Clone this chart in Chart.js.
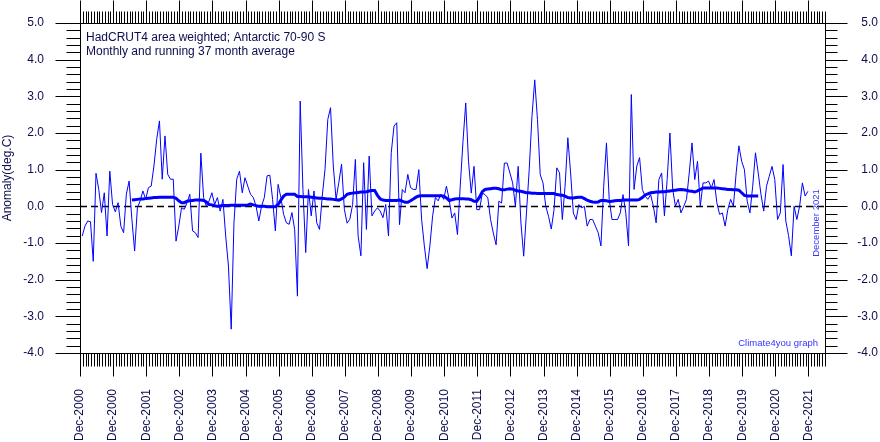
<!DOCTYPE html>
<html><head><meta charset="utf-8">
<script src="https://cdn.jsdelivr.net/npm/chart.js@4.4.1/dist/chart.umd.min.js"></script>
<style>html,body{margin:0;padding:0;background:#fff;overflow:hidden}canvas{display:block}</style>
</head><body>
<canvas id="c" width="880" height="442"></canvas>
<script>
// ---- data ----
const xTickLabels = ["Dec-2000","Dec-2000","Dec-2001","Dec-2002","Dec-2003","Dec-2004","Dec-2005","Dec-2006",
  "Dec-2007","Dec-2008","Dec-2009","Dec-2010","Dec-2011","Dec-2012","Dec-2013","Dec-2014","Dec-2015",
  "Dec-2016","Dec-2017","Dec-2018","Dec-2019","Dec-2020","Dec-2021"];

// monthly anomalies, Jan 2000 .. Dec 2021 (one row per year)
const monthlyAnomaly = [
  -0.81,-0.54,-0.40,-0.42,-1.50,0.90,0.46,-0.17,0.37,-0.81,0.96,0.05,
  -0.15,0.10,-0.54,-0.72,0.33,0.69,-0.35,-1.22,-0.04,0.15,0.42,0.19,
  0.51,0.55,1.10,1.83,2.33,0.74,1.92,0.87,0.74,0.74,-0.95,-0.54,
  -0.04,-0.08,0.10,0.33,-0.67,-0.72,-0.85,1.45,0.24,0.00,0.15,0.37,
  0.05,0.24,-0.13,0.19,-0.81,-1.63,-3.35,-0.45,0.74,0.96,0.37,0.78,
  0.55,0.33,0.24,0.01,-0.40,0.00,0.24,0.83,0.85,0.19,-0.67,0.60,
  0.24,-0.22,-0.45,-0.49,-0.17,-0.63,-2.45,2.87,0.46,-1.26,0.46,-0.26,
  0.42,-0.45,-0.63,0.28,1.01,2.37,2.69,1.10,0.19,0.65,1.15,-0.08,
  -0.46,-0.35,0.05,1.28,-0.81,-1.35,1.19,-0.63,1.37,-0.26,-0.13,-0.04,
  -0.13,-0.31,0.05,-0.81,1.46,2.19,2.28,-0.50,0.46,0.37,0.87,0.51,
  0.46,0.46,1.00,-0.35,-1.08,-1.70,-1.08,-0.26,0.24,0.15,0.33,0.19,
  0.55,0.18,-0.32,-0.18,-0.77,0.55,1.77,2.82,1.23,0.36,1.09,-0.09,
  -0.09,0.36,0.32,0.23,-0.36,-0.73,-1.05,0.14,0.09,1.18,1.18,0.91,
  0.64,0.00,1.09,-0.45,-1.36,-0.18,1.00,2.45,3.45,2.36,0.86,0.64,
  0.00,-0.27,-0.62,-0.09,1.05,0.91,-0.36,0.55,1.87,0.91,-0.18,-0.36,
  0.05,-0.04,0.00,-0.54,-0.36,-0.36,-0.54,-0.72,-1.08,0.55,1.73,0.19,
  -0.36,-0.36,-0.36,-0.18,0.32,-0.18,-1.08,3.05,0.46,1.10,1.33,0.46,
  0.28,0.19,0.32,0.00,-0.45,0.73,0.91,-0.26,0.73,2.00,0.46,0.00,
  0.19,-0.18,0.00,0.19,0.91,1.73,0.73,1.23,0.00,0.64,0.64,0.69,
  0.50,0.73,0.10,-0.22,-0.18,-0.54,-0.08,0.19,0.00,0.91,1.65,1.23,
  1.00,0.14,-0.18,0.55,1.46,0.91,0.32,-0.13,0.55,0.82,1.09,0.73,
  -0.36,-0.18,1.14,-0.40,-0.80,-1.35,0.00,-0.36,0.00,0.64,0.28,0.41
];

// running 37 month average (first value = month 19)
const runningMeanFirstMonth = 19;
const runningMean37 = [
  0.17,0.18,0.19,0.20,0.20,0.21,0.22,0.23,0.24,0.24,
  0.25,0.25,0.25,0.25,0.25,0.25,0.22,0.15,0.10,0.10,
  0.14,0.15,0.16,0.17,0.17,0.17,0.16,0.12,0.05,0.04,
  0.02,0.00,0.01,0.02,0.02,0.02,0.03,0.03,0.03,0.03,
  0.03,0.03,0.04,0.06,0.04,0.02,0.00,0.00,0.00,-0.01,
  -0.01,-0.01,-0.01,0.05,0.17,0.28,0.33,0.33,0.33,0.33,
  0.27,0.27,0.26,0.26,0.26,0.25,0.24,0.23,0.22,0.22,
  0.21,0.20,0.20,0.19,0.18,0.17,0.20,0.25,0.33,0.35,
  0.36,0.37,0.38,0.39,0.39,0.40,0.42,0.43,0.43,0.30,
  0.20,0.17,0.16,0.16,0.16,0.16,0.16,0.17,0.14,0.11,
  0.11,0.15,0.20,0.25,0.28,0.29,0.29,0.29,0.29,0.29,
  0.29,0.29,0.29,0.28,0.23,0.16,0.18,0.20,0.21,0.21,
  0.21,0.20,0.20,0.18,0.14,0.14,0.25,0.40,0.46,0.47,
  0.48,0.49,0.49,0.48,0.45,0.45,0.47,0.48,0.47,0.44,
  0.42,0.41,0.39,0.37,0.37,0.36,0.36,0.35,0.35,0.35,
  0.35,0.35,0.35,0.35,0.32,0.31,0.30,0.28,0.24,0.23,
  0.23,0.24,0.25,0.25,0.21,0.17,0.14,0.12,0.11,0.12,
  0.16,0.16,0.15,0.13,0.14,0.15,0.16,0.16,0.17,0.17,
  0.17,0.17,0.17,0.17,0.19,0.24,0.31,0.34,0.37,0.38,
  0.39,0.39,0.40,0.40,0.41,0.42,0.43,0.44,0.45,0.46,
  0.45,0.44,0.42,0.41,0.39,0.42,0.46,0.50,0.50,0.50,
  0.50,0.50,0.50,0.49,0.48,0.47,0.46,0.46,0.45,0.45,
  0.44,0.37,0.30,0.28,0.28,0.28,0.28,0.28
];

const titleLines = ["HadCRUT4 area weighted; Antarctic 70-90 S", "Monthly and running 37 month average"];
const yAxisTitle = "Anomaly(deg.C)";
const dateNote = "December 2021";
const creditNote = "Climate4you graph";

// ---- chart ----
const TEXT = '#0c0c4e';
const FONT = "'Liberation Sans', Arial, Helvetica, sans-serif";
const BLUE = '#0000ff';

const monthlyPts = monthlyAnomaly.map((v, k) => ({x: k + 1 - 0.2, y: v}));
const meanPts = runningMean37.map((v, k) => ({x: runningMeanFirstMonth + k - 0.2, y: v}));

const framePlugin = {
  id: 'frame',
  beforeDatasetsDraw(chart) {
    const {ctx, chartArea: a, scales} = chart;
    const y0 = Math.round(scales.y.getPixelForValue(0)) + 0.5;
    ctx.save();
    ctx.strokeStyle = '#000';
    ctx.lineWidth = 1.5;
    ctx.setLineDash([7, 4]);
    ctx.beginPath(); ctx.moveTo(a.left, y0); ctx.lineTo(a.right, y0); ctx.stroke();
    ctx.restore();
  },
  afterDraw(chart) {
    const {ctx, chartArea: a, scales} = chart;
    const L = Math.round(a.left) + 0.5, R = Math.round(a.right) + 0.5;
    const T = Math.round(a.top) + 0.5, B = Math.round(a.bottom) + 0.5;
    ctx.save();
    ctx.strokeStyle = '#000';
    ctx.lineWidth = 1;
    ctx.setLineDash([]);
    ctx.strokeRect(L, T, R - L, B - T);
    ctx.beginPath();
    // y ticks every 0.2, major every 1.0
    for (let k = 0; k <= 45; k++) {
      const v = -4 + k * 0.2;
      const y = Math.round(scales.y.getPixelForValue(v)) + 0.5;
      const major = k % 5 === 0;
      ctx.moveTo(L - (major ? 25 : 14), y); ctx.lineTo(L, y);
      ctx.moveTo(R, y); ctx.lineTo(R + (major ? 22 : 12), y);
    }
    // x ticks every month, major every 12
    const xs = scales.x;
    for (let m = 0; m <= xs.max; m++) {
      const x = Math.round(xs.getPixelForValue(m)) + 0.5;
      const major = m % 12 === 0;
      ctx.moveTo(x, B); ctx.lineTo(x, B + (major ? 23 : 13));
      ctx.moveTo(x, T); ctx.lineTo(x, T - (major ? 23 : 12));
    }
    ctx.stroke();

    // texts
    ctx.fillStyle = TEXT;
    ctx.font = '12px ' + FONT;
    ctx.textAlign = 'left';
    ctx.textBaseline = 'alphabetic';
    ctx.fillText(titleLines[0], a.left + 6, a.top + 18);
    ctx.fillText(titleLines[1], a.left + 6, a.top + 32);

    ctx.save();
    ctx.translate(8, 178);
    ctx.rotate(-Math.PI / 2);
    ctx.textAlign = 'center';
    ctx.textBaseline = 'middle';
    ctx.fillText(yAxisTitle, 0, 0);
    ctx.restore();

    ctx.fillStyle = '#3333ff';
    ctx.font = '9.5px ' + FONT;
    ctx.save();
    ctx.translate(a.right - 9, 223);
    ctx.rotate(-Math.PI / 2);
    ctx.textAlign = 'center';
    ctx.textBaseline = 'middle';
    ctx.fillText(dateNote, 0, 0);
    ctx.restore();

    ctx.textAlign = 'right';
    ctx.textBaseline = 'alphabetic';
    ctx.fillText(creditNote, a.right - 7, a.bottom - 7);
    ctx.restore();
  }
};

const tickFont = {family: FONT, size: 12};
const hiddenGrid = len => ({display: true, drawOnChartArea: false, drawTicks: true, tickLength: len, color: 'rgba(0,0,0,0)'});

new Chart(document.getElementById('c'), {
  type: 'line',
  data: {
    datasets: [
      {data: meanPts, borderColor: BLUE, backgroundColor: BLUE, borderWidth: 3, pointRadius: 0, tension: 0, fill: false},
      {data: monthlyPts, borderColor: BLUE, backgroundColor: BLUE, borderWidth: 1, pointRadius: 0, tension: 0, fill: false}
    ]
  },
  options: {
    responsive: false,
    animation: false,
    devicePixelRatio: 1,
    layout: {padding: {top: 23, right: 2, left: 0, bottom: 0}},
    plugins: {legend: {display: false}, tooltip: {enabled: false}},
    scales: {
      x: {
        type: 'linear', position: 'bottom', min: 0, max: 270,
        grid: hiddenGrid(36), border: {display: false},
        afterBuildTicks: s => { s.ticks = xTickLabels.map((_, k) => ({value: k * 12})); },
        afterFit: s => { s.height = 89; },
        ticks: {autoSkip: false, minRotation: 90, maxRotation: 90, padding: 0, color: TEXT, font: tickFont,
          callback: v => xTickLabels[Math.round(v / 12)]}
      },
      y: {
        type: 'linear', position: 'left', min: -4, max: 5,
        grid: hiddenGrid(36), border: {display: false},
        afterFit: s => { s.width = 80; },
        ticks: {stepSize: 1, padding: 0, color: TEXT, font: tickFont, callback: v => Number(v).toFixed(1)}
      },
      y2: {
        type: 'linear', position: 'right', min: -4, max: 5,
        grid: hiddenGrid(25), border: {display: false},
        afterFit: s => { s.width = 53; },
        ticks: {stepSize: 1, padding: 0, crossAlign: 'far', color: TEXT, font: tickFont, callback: v => Number(v).toFixed(1)}
      }
    }
  },
  plugins: [framePlugin]
});
</script>
</body></html>
